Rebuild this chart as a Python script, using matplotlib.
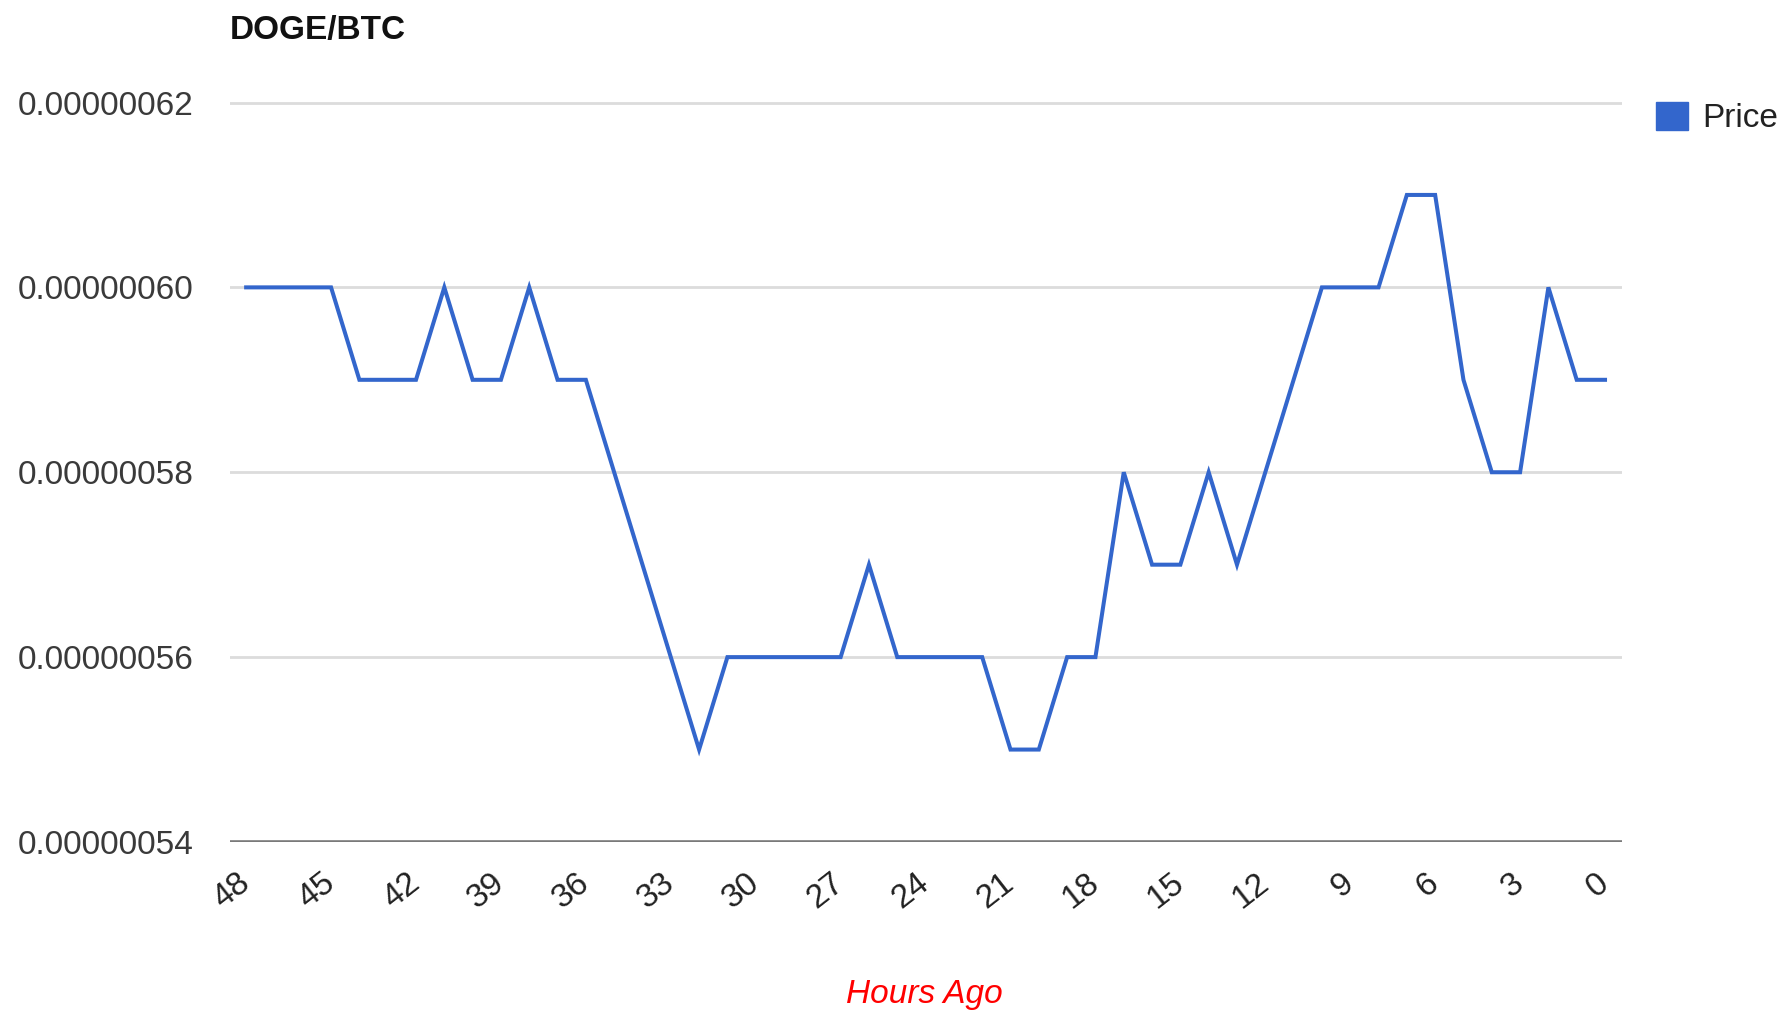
import matplotlib
matplotlib.use("Agg")
import matplotlib.pyplot as plt
from matplotlib.patches import Patch
from matplotlib.ticker import FixedLocator

plt.rcParams['font.family'] = ['Liberation Sans', 'DejaVu Sans']

title = "DOGE/BTC"
series_name = "Price"
x_label = "Hours Ago"
hours_ago = list(range(48, -1, -1))
price = [0.60, 0.60, 0.60, 0.60, 0.59, 0.59, 0.59, 0.60, 0.59, 0.59,
         0.60, 0.59, 0.59, 0.58, 0.57, 0.56, 0.55, 0.56, 0.56, 0.56,
         0.56, 0.56, 0.57, 0.56, 0.56, 0.56, 0.56, 0.55, 0.55, 0.56,
         0.56, 0.58, 0.57, 0.57, 0.58, 0.57, 0.58, 0.59, 0.60, 0.60,
         0.60, 0.61, 0.61, 0.59, 0.58, 0.58, 0.60, 0.59, 0.59]
price = [p * 1e-6 for p in price]
x_ticks = list(range(48, -1, -3))
y_ticks = [0.54e-6, 0.56e-6, 0.58e-6, 0.60e-6, 0.62e-6]
y_tick_labels = ["0.00000054", "0.00000056", "0.00000058", "0.00000060", "0.00000062"]

W, H = 1785, 1013
fig = plt.figure(figsize=(W / 100, H / 100), dpi=100)
ax = fig.add_axes([230 / W, 1 - 842 / H, (1622 - 230) / W, (842 - 102.5) / H])

line_color = "#3366cc"
ax.plot(hours_ago, price, color=line_color, lw=2.9, solid_joinstyle='miter', zorder=3)

ax.set_xlim(48.57, -0.6)
ax.set_ylim(0.54e-6, 0.62e-6)

ax.yaxis.set_major_locator(FixedLocator(y_ticks))
ax.set_yticklabels(y_tick_labels)
ax.set_xticks(x_ticks)
ax.set_xticklabels([str(v) for v in x_ticks])

for s in ax.spines.values():
    s.set_visible(False)
for y in y_ticks[1:]:
    ax.axhline(y, color="#dcdcdc", lw=2, zorder=1)
ax.axhline(y_ticks[0], color="#7a7a7a", lw=2.6, zorder=2)

ax.tick_params(axis='y', length=0, pad=26, labelsize=24, labelcolor="#3a3a3a")
ax.tick_params(axis='x', length=0, pad=27, labelsize=24, labelcolor="#222222")
for lbl in ax.get_xticklabels():
    lbl.set_rotation(38)
    lbl.set_ha('right')
    lbl.set_va('center')
    lbl.set_rotation_mode('anchor')

fig.text(230 / W, 1 - 31 / H, title, ha='left', va='center', fontsize=24,
         fontweight='bold', color="#111111")
fig.text(924 / W, 1 - 994 / H, x_label, ha='center', va='center', fontsize=24,
         fontstyle='italic', color="#ff0000")

ax.legend(handles=[Patch(facecolor=line_color, edgecolor=line_color)], labels=[series_name],
          loc='center left', bbox_to_anchor=(1656 / W, 1 - 118 / H),
          bbox_transform=fig.transFigure, frameon=False, fontsize=24,
          handlelength=0.96, handleheight=0.96, handletextpad=0.42,
          borderpad=0, borderaxespad=0, labelcolor="#222222")

fig.savefig("out.png", dpi=100, facecolor="white")
